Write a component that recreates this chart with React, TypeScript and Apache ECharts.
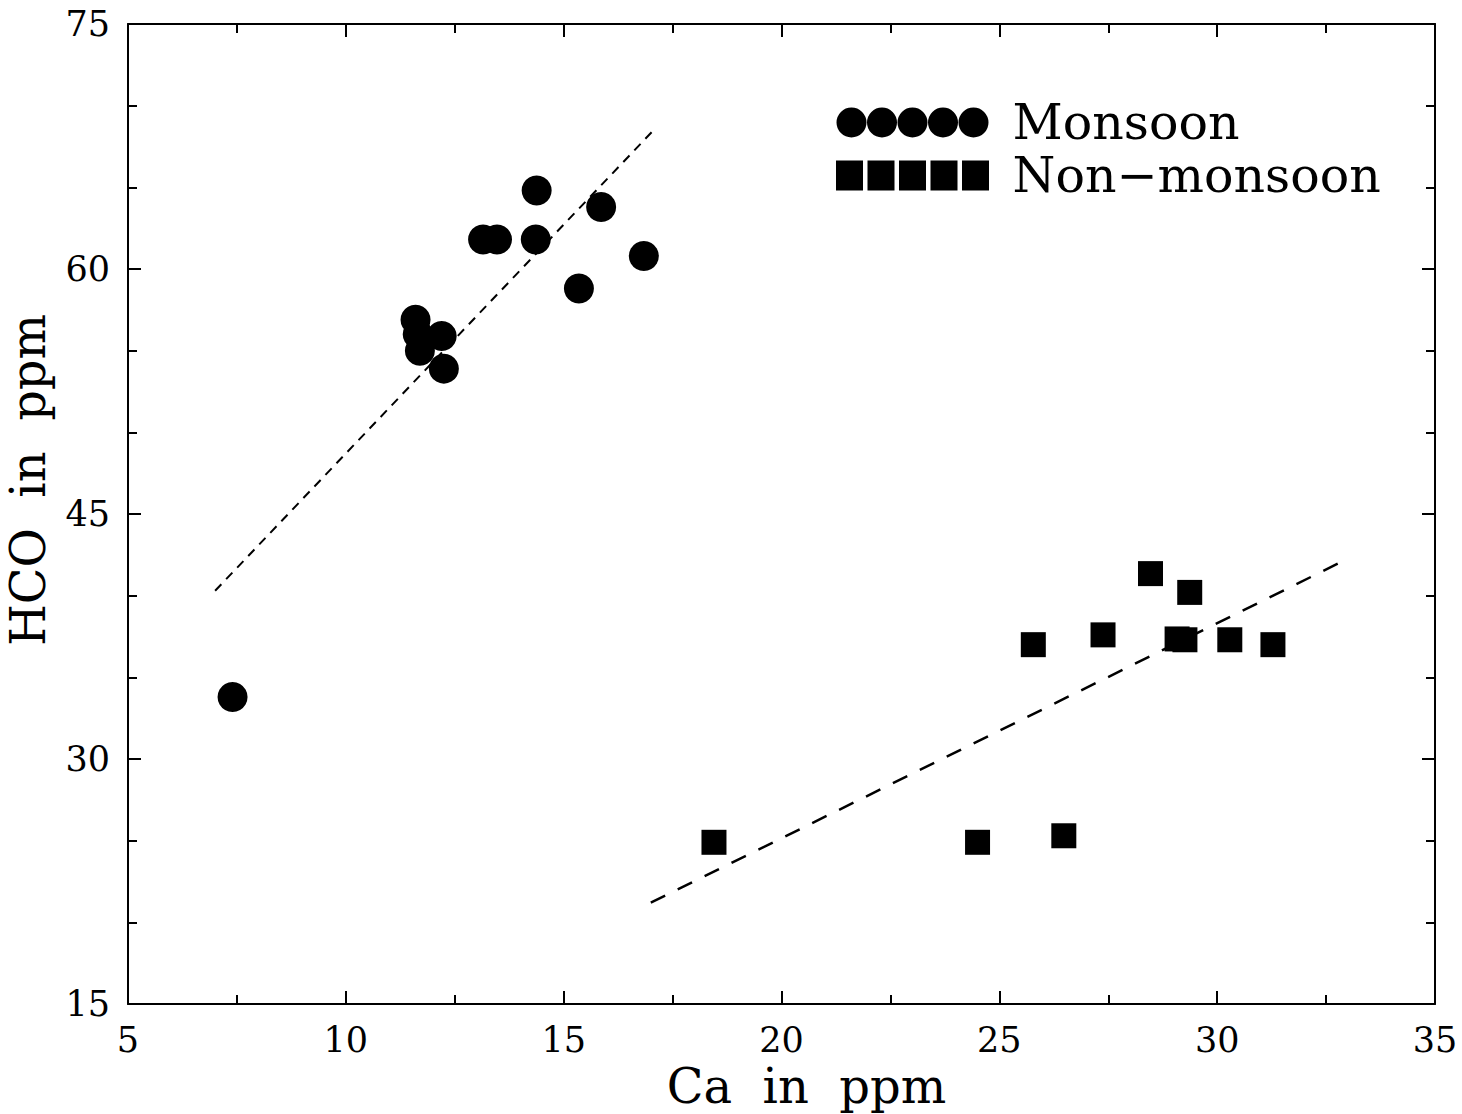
import React, { useEffect, useRef } from "react";
import * as echarts from "echarts";

const monsoonCa = [7.4, 11.6, 11.65, 11.7, 12.2, 12.25, 13.15, 13.47, 14.38, 14.36, 15.35, 15.86, 16.84];
const monsoonHCO = [33.8, 56.9, 56.0, 55.0, 55.9, 53.9, 61.8, 61.8, 64.8, 61.8, 58.8, 63.8, 60.8];

const nonMonsoonCa = [18.45, 24.5, 26.48, 25.78, 27.38, 28.47, 29.37, 29.08, 29.26, 30.29, 31.28];
const nonMonsoonHCO = [24.9, 24.9, 25.3, 37.0, 37.6, 41.35, 40.2, 37.35, 37.3, 37.3, 37.0];

const monsoonFitCa = [7.0, 17.1];
const monsoonFitHCO = [40.3, 68.6];
const nonMonsoonFitCa = [17.0, 32.8];
const nonMonsoonFitHCO = [21.2, 42.0];

const seriesNames = ["Monsoon", "Non\u2212monsoon"];
const xTitle = "Ca  in  ppm";
const yTitle = "HCO  in  ppm";

const FONT = "DejaVu Serif";

function circlesIcon(): string {
  let d = "path://";
  for (let i = 0; i < 5; i++) {
    const cx = 15 + 30.5 * i;
    d += `M${cx - 15},15 A15,15 0 1,0 ${cx + 15},15 A15,15 0 1,0 ${cx - 15},15 Z `;
  }
  return d;
}
function squaresIcon(): string {
  let d = "path://";
  for (let i = 0; i < 5; i++) {
    const x = i * 31.5;
    d += `M${x},0 L${x + 27},0 L${x + 27},30 L${x},30 Z `;
  }
  return d;
}

export default function App() {
  const ref = useRef<HTMLDivElement>(null);
  useEffect(() => {
    if (!ref.current) return;
    const chart = echarts.init(ref.current, null, { renderer: "svg" });
    const axisCommon = {
      type: "value" as const,
      axisLine: { show: true, lineStyle: { color: "#000", width: 2 } },
      axisTick: { show: true, inside: true, length: 13, lineStyle: { color: "#000", width: 2 } },
      minorTick: { show: true, length: 9, lineStyle: { color: "#000", width: 2 } },
      splitLine: { show: false },
      minorSplitLine: { show: false },
    };
    const xBase = { ...axisCommon, min: 5, max: 35, interval: 5, minorTick: { ...axisCommon.minorTick, splitNumber: 2 } };
    const yBase = { ...axisCommon, min: 15, max: 75, interval: 15, minorTick: { ...axisCommon.minorTick, splitNumber: 3 } };
    chart.setOption({
      animation: false,
      backgroundColor: "#fff",
      textStyle: { fontFamily: FONT, color: "#000" },
      grid: { left: 128, right: 27, top: 24, bottom: 110, containLabel: false, outerBoundsMode: "none" },
      legend: {
        data: [
          { name: seriesNames[0], icon: circlesIcon() },
          { name: seriesNames[1], icon: squaresIcon() },
        ],
        orient: "vertical",
        left: 836,
        top: 96,
        itemWidth: 154,
        itemHeight: 30,
        itemGap: 0,
        padding: 0,
        selectedMode: false,
        textStyle: { fontFamily: FONT, fontSize: 49, lineHeight: 53, color: "#000", padding: [0, 0, 0, 18] },
      },
      xAxis: [
        {
          ...xBase,
          position: "bottom",
          name: xTitle,
          nameLocation: "middle",
          nameGap: 57,
          nameTextStyle: { fontFamily: FONT, fontSize: 48, color: "#000", padding: [0, 0, 0, 50] },
          axisLabel: { fontFamily: FONT, fontSize: 35, color: "#000", margin: 18 },
        },
        { ...xBase, position: "top", axisLabel: { show: false } },
      ],
      yAxis: [
        {
          ...yBase,
          position: "left",
          name: yTitle,
          nameLocation: "middle",
          nameGap: 76,
          nameRotate: 90,
          nameTextStyle: { fontFamily: FONT, fontSize: 48, color: "#000", padding: [0, 0, 0, 68] },
          axisLabel: { fontFamily: FONT, fontSize: 35, color: "#000", margin: 18 },
        },
        { ...yBase, position: "right", axisLabel: { show: false } },
      ],
      series: [
        {
          name: seriesNames[0],
          type: "scatter",
          symbol: "circle",
          symbolSize: 30,
          itemStyle: { color: "#000", opacity: 1 },
          data: monsoonCa.map((x, i) => [x, monsoonHCO[i]]),
          z: 3,
        },
        {
          name: seriesNames[1],
          type: "scatter",
          symbol: "rect",
          symbolSize: 25,
          itemStyle: { color: "#000", opacity: 1 },
          data: nonMonsoonCa.map((x, i) => [x, nonMonsoonHCO[i]]),
          z: 3,
        },
        {
          name: "Monsoon fit",
          type: "line",
          showSymbol: false,
          symbol: "none",
          lineStyle: { color: "#000", width: 2, type: [9, 7] },
          data: monsoonFitCa.map((x, i) => [x, monsoonFitHCO[i]]),
          z: 2,
        },
        {
          name: "Non-monsoon fit",
          type: "line",
          showSymbol: false,
          symbol: "none",
          lineStyle: { color: "#000", width: 2.5, type: [16, 14] },
          data: nonMonsoonFitCa.map((x, i) => [x, nonMonsoonFitHCO[i]]),
          z: 2,
        },
      ],
    });
    return () => chart.dispose();
  }, []);
  return (
    <div
      ref={ref}
      style={{ position: "fixed", left: 0, top: 0, width: 1462, height: 1114, background: "#fff" }}
    />
  );
}
